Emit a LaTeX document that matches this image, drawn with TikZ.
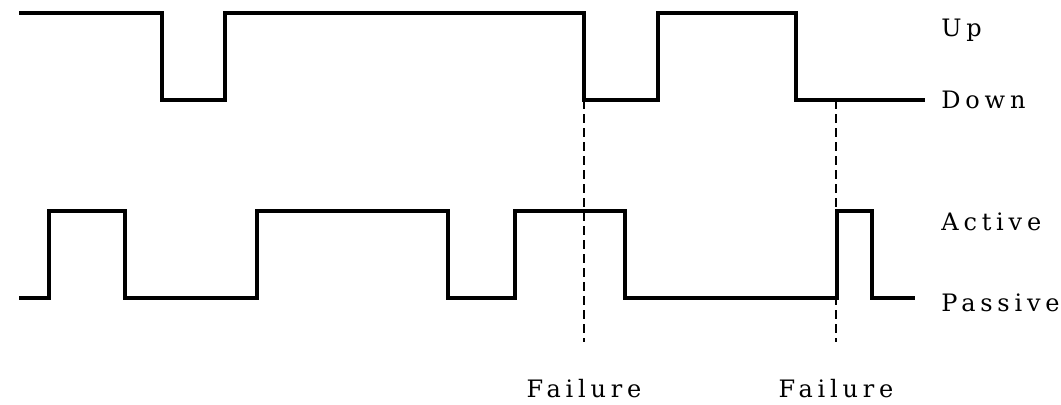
\documentclass[tikz,border=0pt]{standalone}
\usepackage{fontspec}
\setmainfont{DejaVu Serif}[LetterSpace=20]
\usepackage{tikz}
\usetikzlibrary{arrows}

\begin{document}
\begin{tikzpicture}[line join=miter,x=0.5pt,y=0.5pt,
    wave/.style={line width=1.7pt},
    fail/.style={line width=1pt,dash pattern=on 4.5pt off 2.5pt},
    lab/.style={anchor=base west,inner sep=0pt,font=\fontsize{12}{14}\selectfont},
    flab/.style={anchor=base,inner sep=0pt,font=\fontsize{12}{14}\selectfont}]
        \useasboundingbox (0,0) rectangle (1061,404);
        % up / down
        \draw [wave] (19,391) -- (162,391) -- (162,304) -- (225,304) -- (225,391) -- (584,391) -- (584,304) -- (658,304) -- (658,391) -- (796,391) -- (796,304) -- (925,304);
        % active / passive
        \draw [wave] (19,106) -- (49,106) -- (49,193) -- (125,193) -- (125,106) -- (257,106) -- (257,193) -- (448,193) -- (448,106) -- (515,106) -- (515,193) -- (625,193) -- (625,106) -- (837,106) -- (837,193) -- (872,193) -- (872,106) -- (915,106);
        \coordinate (f1) at (584,304);
        \coordinate (f2) at (836,304);
        \coordinate (f1end) at (584,62);
        \coordinate (f2end) at (836,62);
        \draw [fail] (f1) -- (f1end);
        \draw [fail] (f2) -- (f2end);
        \node[lab] (up) at (941,368) {Up};
        \node[lab] (down) at (941,296) {Down};
        \node[lab] (active) at (941,174) {Active};
        \node[lab] (passive) at (941,93) {Passive};
        \node[flab] (fail1) at (584,7) {Failure};
        \node[flab] (fail2) at (836,7) {Failure};
    \end{tikzpicture}
\end{document}
